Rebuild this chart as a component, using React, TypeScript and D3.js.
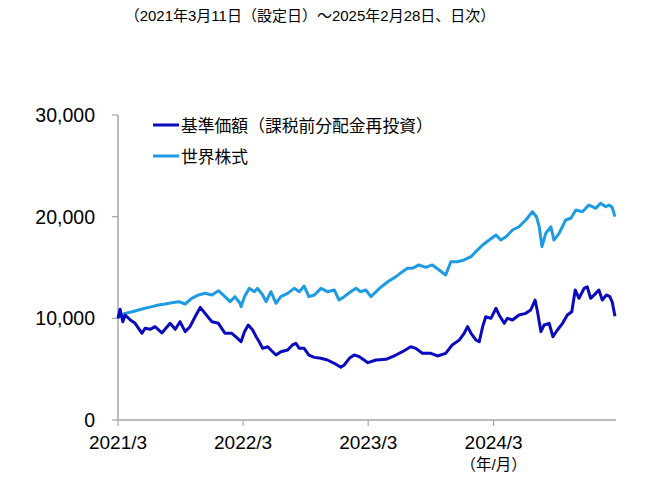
import React from "react";
import * as d3 from "d3";

const titleText = "（2021年3月11日（設定日）～2025年2月28日、日次）";
const seriesNames = ["基準価額（課税前分配金再投資）", "世界株式"];
const yTicks = [0, 10000, 20000, 30000];
const xTickDates = ["2021-03-11", "2022-03-11", "2023-03-11", "2024-03-11"];
const xTickLabels = ["2021/3", "2022/3", "2023/3", "2024/3"];
const unitLabel = "（年/月）";

const navDates = [
  "2021-03-11","2021-03-17","2021-03-25","2021-04-01","2021-04-16","2021-04-30","2021-05-20","2021-05-29",
  "2021-06-13","2021-06-27","2021-07-17","2021-08-10","2021-08-25","2021-09-08","2021-09-23","2021-10-07",
  "2021-10-22","2021-11-06","2021-11-20","2021-12-10","2021-12-29","2022-01-17","2022-02-06","2022-02-23",
  "2022-03-05","2022-03-15","2022-03-26","2022-04-08","2022-04-18","2022-04-27","2022-05-07","2022-05-22",
  "2022-05-31","2022-06-15","2022-06-29","2022-07-19","2022-08-02","2022-08-12","2022-08-22","2022-09-05",
  "2022-09-19","2022-10-05","2022-10-24","2022-11-12","2022-12-02","2022-12-21","2022-12-31","2023-01-15",
  "2023-01-29","2023-02-13","2023-02-27","2023-03-10","2023-04-03","2023-05-02","2023-05-31","2023-06-19",
  "2023-07-13","2023-07-28","2023-08-16","2023-09-10","2023-09-29","2023-10-23","2023-11-11","2023-12-02",
  "2023-12-16","2023-12-26","2024-01-05","2024-01-19","2024-01-29","2024-02-08","2024-02-17","2024-03-03",
  "2024-03-18","2024-03-27","2024-04-11","2024-04-20","2024-05-05","2024-05-24","2024-06-13","2024-06-27",
  "2024-07-10","2024-07-17","2024-07-27","2024-08-05","2024-08-20","2024-08-31","2024-09-13","2024-09-28",
  "2024-10-12","2024-10-25","2024-11-04","2024-11-15","2024-11-30","2024-12-09","2024-12-19","2025-01-03",
  "2025-01-12","2025-01-22","2025-02-03","2025-02-13","2025-02-20","2025-02-28"
];
const navValues = [
  10000,10900,9670,10330,9840,9510,8530,9020,
  8920,9180,8560,9510,8920,9670,8690,9180,
  10160,11080,10490,9670,9510,8530,8530,8030,
  7700,8690,9340,8850,8190,7700,7050,7210,
  6890,6390,6720,6890,7380,7540,7050,7050,
  6390,6160,6070,5900,5580,5180,5410,6070,
  6390,6230,5900,5640,5900,5970,6390,6720,
  7210,7050,6560,6560,6300,6560,7380,7870,
  8530,9180,8530,7870,7700,9180,10160,10000,
  10990,10330,9510,10000,9840,10330,10490,10820,
  11800,10650,8690,9340,9510,8190,8850,9510,
  10330,10650,12790,11970,12950,13110,11970,12460,
  12790,11800,12300,12130,11600,10200
];

const worldDates = [
  "2021-03-11","2021-04-01","2021-04-21","2021-05-10","2021-05-29","2021-06-18","2021-07-07","2021-07-27",
  "2021-08-15","2021-09-04","2021-09-23","2021-10-12","2021-11-01","2021-11-20","2021-12-10","2021-12-29",
  "2022-01-17","2022-02-01","2022-02-15","2022-03-02","2022-03-05","2022-03-15","2022-03-29","2022-04-13",
  "2022-04-22","2022-05-07","2022-05-17","2022-05-31","2022-06-15","2022-06-29","2022-07-19","2022-08-07",
  "2022-08-22","2022-09-05","2022-09-19","2022-10-05","2022-10-24","2022-11-12","2022-12-02","2022-12-16",
  "2022-12-31","2023-01-19","2023-02-03","2023-02-17","2023-03-04","2023-03-19","2023-04-13","2023-05-07",
  "2023-05-31","2023-06-19","2023-07-03","2023-07-18","2023-08-06","2023-08-26","2023-09-14","2023-10-04",
  "2023-10-23","2023-11-07","2023-11-26","2023-12-16","2024-01-05","2024-01-19","2024-02-08","2024-02-27",
  "2024-03-18","2024-04-01","2024-04-16","2024-05-05","2024-05-24","2024-06-13","2024-07-02","2024-07-14",
  "2024-07-22","2024-07-30","2024-08-10","2024-08-25","2024-09-03","2024-09-18","2024-10-07","2024-10-22",
  "2024-11-06","2024-11-25","2024-12-14","2025-01-03","2025-01-17","2025-02-01","2025-02-11","2025-02-20",
  "2025-02-28"
];
const worldValues = [
  10100,10490,10650,10820,10990,11150,11310,11410,
  11540,11640,11410,11970,12300,12460,12300,12720,
  12130,11640,12130,11480,11150,12130,12950,12620,
  12950,12300,11640,12620,11480,12130,12460,12950,
  12620,13180,12130,12300,12950,12620,12790,11800,
  12130,12620,12950,12620,12790,12130,12950,13600,
  14100,14590,14920,14920,15250,15020,15250,14750,
  14260,15570,15570,15740,16060,16560,17210,17700,
  18200,17700,18030,18690,19010,19670,20490,19990,
  19010,17050,18360,19010,17700,18360,19670,19840,
  20660,20490,21150,20820,21310,20980,21150,20900,
  20000
];

const navColor = "#0B0BBE";
const worldColor = "#1E9BE3";
const axisColor = "#A6A6A6";
const fontFamily = "'Liberation Sans', Arial, 'Noto Sans CJK JP', sans-serif";

export default function App() {
  const width = 650;
  const height = 495;
  const left = 118;
  const right = 616;
  const top = 115;
  const bottom = 420;

  const parse = d3.timeParse("%Y-%m-%d");
  const x = d3
    .scaleTime()
    .domain([parse("2021-03-11")!, parse("2025-03-03")!])
    .range([left, right]);
  const y = d3.scaleLinear().domain([0, 30000]).range([bottom, top]);

  const navData = navDates.map((d, i) => ({ date: parse(d)!, v: navValues[i] }));
  const worldData = worldDates.map((d, i) => ({ date: parse(d)!, v: worldValues[i] }));

  const line = d3
    .line<{ date: Date; v: number }>()
    .x((d) => x(d.date))
    .y((d) => y(d.v));

  const fmt = d3.format(",");

  return (
    <svg
      width={width}
      height={height}
      style={{ position: "absolute", left: 0, top: 0, background: "#fff" }}
      fontFamily={fontFamily}
    >
      <rect x={0} y={0} width={width} height={height} fill="#fff" />
      <text x={310} y={21} textAnchor="middle" fontSize={15} fill="#000">
        {titleText}
      </text>

      {/* axes */}
      <line x1={left} x2={left} y1={top} y2={bottom} stroke={axisColor} strokeWidth={1.5} />
      <line x1={left} x2={right} y1={bottom} y2={bottom} stroke={axisColor} strokeWidth={1.5} />
      {yTicks.map((t) => (
        <g key={t}>
          <line x1={left - 6} x2={left} y1={y(t)} y2={y(t)} stroke={axisColor} strokeWidth={1.2} />
          <text x={95} y={y(t) + 7} textAnchor="end" fontSize={19.5} fill="#000">
            {fmt(t)}
          </text>
        </g>
      ))}
      {xTickDates.map((d, i) => {
        const xx = x(parse(d)!);
        return (
          <g key={d}>
            <line x1={xx} x2={xx} y1={bottom} y2={bottom + 6} stroke={axisColor} strokeWidth={1.2} />
            <text x={xx} y={bottom + 29} textAnchor="middle" fontSize={19} fill="#000">
              {xTickLabels[i]}
            </text>
          </g>
        );
      })}
      <text x={x(parse(xTickDates[3])!)} y={bottom + 50} textAnchor="middle" fontSize={15.5} fill="#000">
        {unitLabel}
      </text>

      {/* series */}
      <path d={line(worldData) || ""} fill="none" stroke={worldColor} strokeWidth={3} strokeLinejoin="round" />
      <path d={line(navData) || ""} fill="none" stroke={navColor} strokeWidth={3} strokeLinejoin="round" />

      {/* legend */}
      <line x1={153} x2={179} y1={125} y2={125} stroke={navColor} strokeWidth={3} />
      <text x={181} y={132} fontSize={16.8} fill="#000">
        {seriesNames[0]}
      </text>
      <line x1={153} x2={179} y1={156} y2={156} stroke={worldColor} strokeWidth={3} />
      <text x={181} y={163} fontSize={16.8} fill="#000">
        {seriesNames[1]}
      </text>
    </svg>
  );
}
